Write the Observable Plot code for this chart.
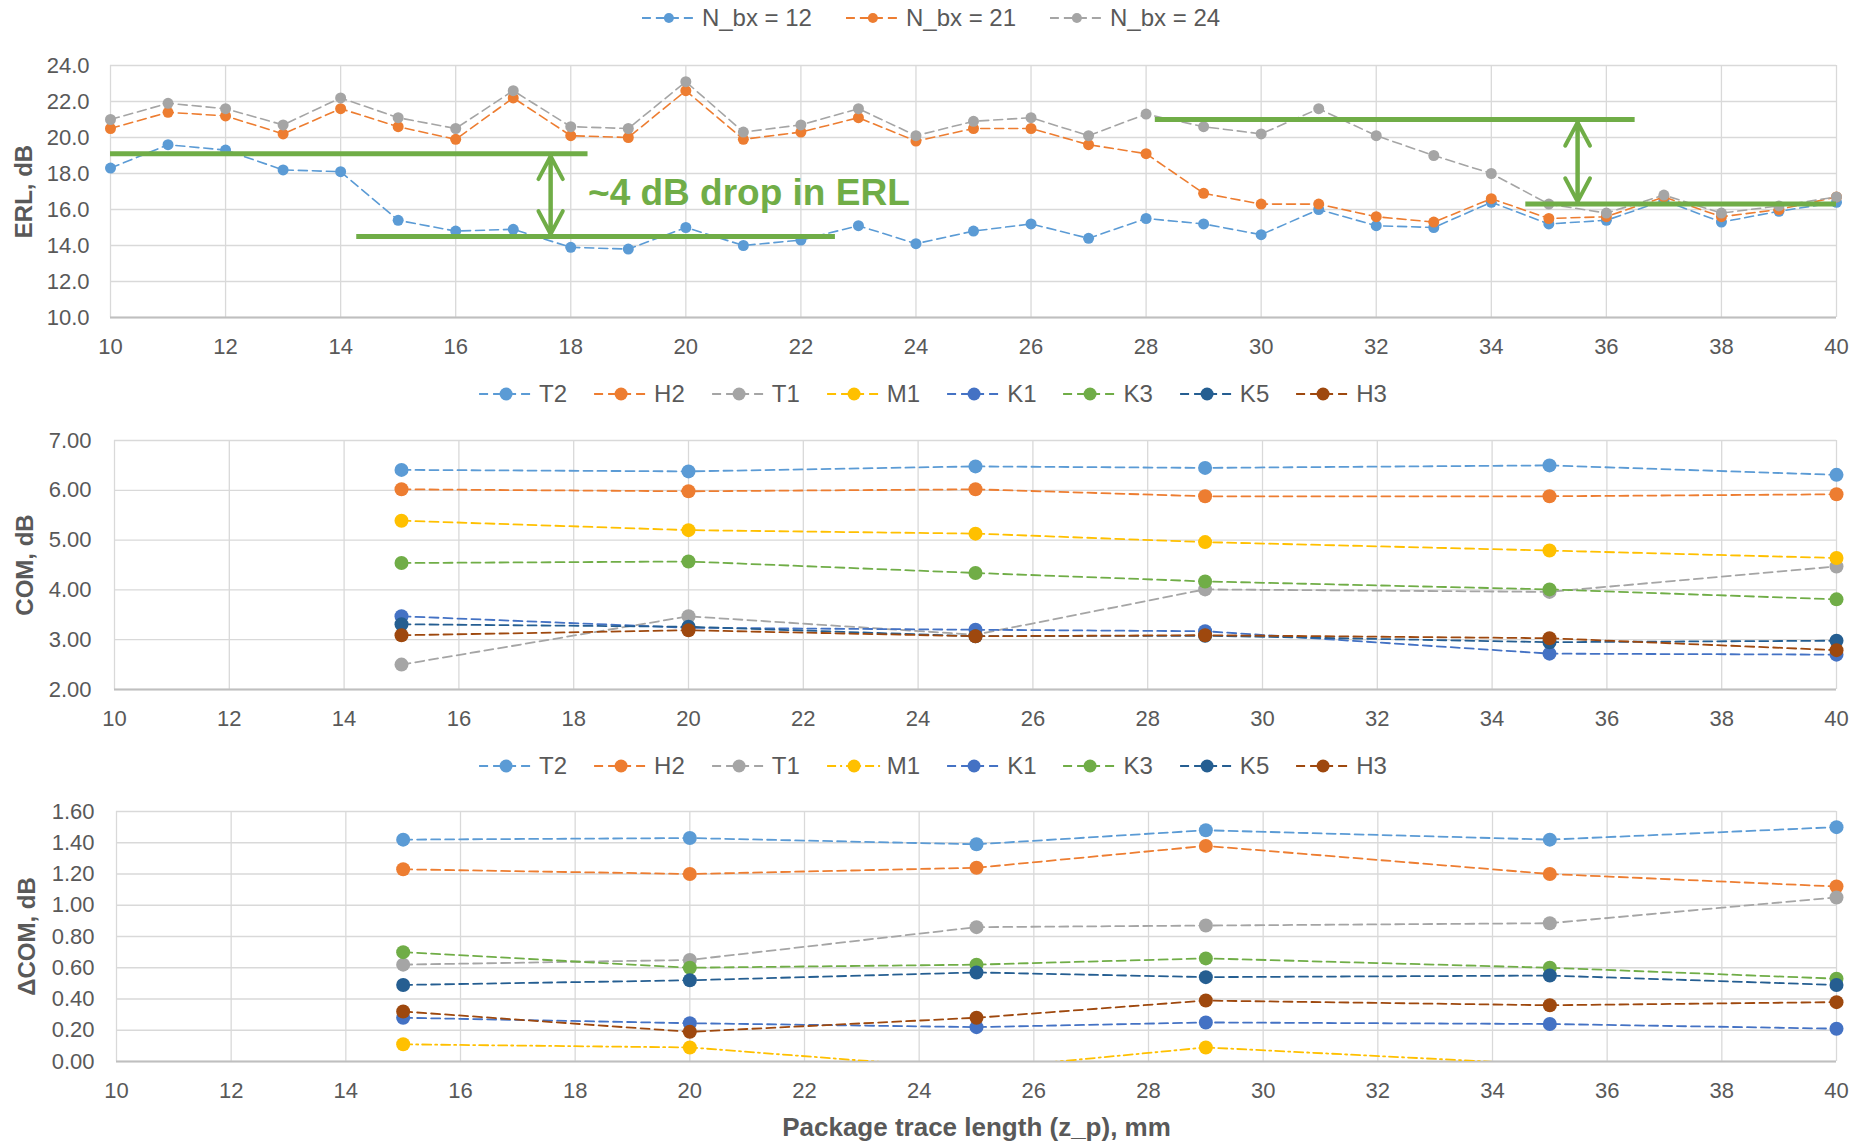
<!DOCTYPE html>
<html><head><meta charset="utf-8">
<script src="https://cdn.jsdelivr.net/npm/d3@7"></script>
<script src="https://cdn.jsdelivr.net/npm/@observablehq/plot@0.6"></script>
<style>
body{margin:0;background:#fff;font-family:"Liberation Sans",Arial,sans-serif;}
#wrap{position:relative;width:1854px;height:1142px;overflow:hidden;background:#fff;}
.chart{position:absolute;left:0;}
.legend{position:absolute;height:28px;transform:translateX(-50%);display:flex;align-items:center;white-space:nowrap;color:#595959;font-size:24px;}
.item{display:flex;align-items:center;}
.item svg{display:block;margin-right:6px;}
</style></head><body><div id="wrap"></div>
<script>
// ---------- data ----------
const lengthsERL = [10,11,12,13,14,15,16,17,18,19,20,21,22,23,24,25,26,27,28,29,30,31,32,33,34,35,36,37,38,39,40];
const erlNbx12 = [18.3,19.6,19.3,18.2,18.1,15.4,14.8,14.9,13.9,13.8,15.0,14.0,14.3,15.1,14.1,14.8,15.2,14.4,15.5,15.2,14.6,16.0,15.1,15.0,16.4,15.2,15.4,16.5,15.3,15.9,16.4];
const erlNbx21 = [20.5,21.4,21.2,20.2,21.6,20.6,19.9,22.2,20.1,20.0,22.6,19.9,20.3,21.1,19.8,20.5,20.5,19.6,19.1,16.9,16.3,16.3,15.6,15.3,16.6,15.5,15.6,16.7,15.6,16.0,16.7];
const erlNbx24 = [21.0,21.9,21.6,20.7,22.2,21.1,20.5,22.6,20.6,20.5,23.1,20.3,20.7,21.6,20.1,20.9,21.1,20.1,21.3,20.6,20.2,21.6,20.1,19.0,18.0,16.3,15.8,16.8,15.8,16.2,16.7];

const lengthsCOM = [15,20,25,29,35,40];
const comT2 = [6.41,6.38,6.48,6.45,6.50,6.31];
const comH2 = [6.02,5.98,6.02,5.88,5.88,5.92];
const comT1 = [2.50,3.47,3.10,4.01,3.96,4.47];
const comM1 = [5.39,5.20,5.13,4.96,4.79,4.64];
const comK1 = [3.47,3.24,3.20,3.17,2.72,2.70];
const comK3 = [4.54,4.57,4.34,4.17,4.01,3.81];
const comK5 = [3.31,3.26,3.07,3.08,2.95,2.98];
const comH3 = [3.09,3.19,3.07,3.09,3.03,2.79];

const dcomT2 = [1.42,1.43,1.39,1.48,1.42,1.50];
const dcomH2 = [1.23,1.20,1.24,1.38,1.20,1.12];
const dcomT1 = [0.62,0.65,0.86,0.87,0.885,1.05];
const dcomM1 = [0.11,0.09,-0.05,0.09,-0.02,-0.06];
const dcomK1 = [0.28,0.245,0.22,0.25,0.24,0.21];
const dcomK3 = [0.70,0.60,0.62,0.66,0.60,0.53];
const dcomK5 = [0.49,0.52,0.57,0.54,0.55,0.49];
const dcomH3 = [0.32,0.19,0.28,0.39,0.36,0.38];

const xTicks = [10,12,14,16,18,20,22,24,26,28,30,32,34,36,38,40];
const erlTicks = [10,12,14,16,18,20,22,24];
const comTicks = [2,3,4,5,6,7];
const dcomTicks = [0,0.2,0.4,0.6,0.8,1.0,1.2,1.4,1.6];

// annotation (top chart)
const annotLines = [
  {y:19.1, x1:10, x2:18.3},
  {y:14.5, x1:14.28, x2:22.6},
  {y:21.0, x1:28.16, x2:36.5},
  {y:16.3, x1:34.6, x2:40}
];
const annotArrows = [
  {x:17.65, top:18.96, bottom:14.64},
  {x:35.5, top:20.84, bottom:16.44}
];
const annotText = "~4 dB drop in ERL";

// ---------- styles ----------
const C = {T2:"#5B9BD5", H2:"#ED7D31", T1:"#A5A5A5", M1:"#FFC000", K1:"#4472C4", K3:"#70AD47", K5:"#255E91", H3:"#9E480E"};
const DASH = "9,5";
const DASHDOT = "9,4,2,4";
const GREEN = "#70AD47";
const TXT = "#595959";
const FONT = '"Liberation Sans", Arial, sans-serif';

const erlSeries = [
  {name:"N_bx = 12", color:C.T2, values:erlNbx12, dash:DASH},
  {name:"N_bx = 21", color:C.H2, values:erlNbx21, dash:DASH},
  {name:"N_bx = 24", color:C.T1, values:erlNbx24, dash:DASH}
];
const comSeries = [
  {name:"T2", color:C.T2, values:comT2, dash:DASH},
  {name:"H2", color:C.H2, values:comH2, dash:DASH},
  {name:"T1", color:C.T1, values:comT1, dash:DASH},
  {name:"M1", color:C.M1, values:comM1, dash:DASH},
  {name:"K1", color:C.K1, values:comK1, dash:DASH},
  {name:"K3", color:C.K3, values:comK3, dash:DASH},
  {name:"K5", color:C.K5, values:comK5, dash:DASH},
  {name:"H3", color:C.H3, values:comH3, dash:DASH}
];
const dcomSeries = [
  {name:"T2", color:C.T2, values:dcomT2, dash:DASH},
  {name:"H2", color:C.H2, values:dcomH2, dash:DASH},
  {name:"T1", color:C.T1, values:dcomT1, dash:DASH},
  {name:"M1", color:C.M1, values:dcomM1, dash:DASHDOT},
  {name:"K1", color:C.K1, values:dcomK1, dash:DASH},
  {name:"K3", color:C.K3, values:dcomK3, dash:DASH},
  {name:"K5", color:C.K5, values:dcomK5, dash:DASH},
  {name:"H3", color:C.H3, values:dcomH3, dash:DASH}
];

const wrap = document.getElementById("wrap");

function legend(series, cy, r, gap, cx) {
  const div = document.createElement("div");
  div.className = "legend";
  div.style.top = (cy - 14) + "px";
  div.style.left = cx + "px";
  series.forEach((s, i) => {
    const it = document.createElement("div");
    it.className = "item";
    if (i > 0) it.style.marginLeft = gap + "px";
    it.innerHTML = `<svg width="54" height="20"><line x1="0" x2="54" y1="10" y2="10" stroke="${s.color}" stroke-width="1.8" stroke-dasharray="${s.dash}"/><circle cx="27" cy="10" r="${r}" fill="${s.color}"/></svg><span>${s.name}</span>`;
    div.appendChild(it);
  });
  wrap.appendChild(div);
}

function chart(cfg) {
  const marks = [
    Plot.gridX(xTicks, {stroke:"#D9D9D9", strokeOpacity:1, strokeWidth:1.3}),
    Plot.gridY(cfg.yTicks, {stroke:"#D9D9D9", strokeOpacity:1, strokeWidth:1.3}),
    Plot.ruleY([cfg.yDomain[0]], {stroke:"#BFBFBF", strokeWidth:2}),
    Plot.axisX(xTicks, {tickSize:0, tickPadding:21, fontSize:22, fill:TXT, label:null}),
    Plot.axisY(cfg.yTicks, {tickSize:0, tickPadding:cfg.yPad, tickFormat:d3.format(cfg.fmt), fontSize:22, fill:TXT, label:null}),
    Plot.text([cfg.yTitle], {text:d=>d, frameAnchor:"left", dx:cfg.titleX - cfg.marginLeft, rotate:-90, textAnchor:"middle", fontSize:24, fontWeight:"bold", fill:TXT})
  ];
  for (const s of cfg.series) {
    const data = cfg.xs.map((x, i) => ({x, y:s.values[i]}));
    marks.push(Plot.line(data, {x:"x", y:"y", stroke:s.color, strokeWidth:cfg.lw, strokeDasharray:s.dash, clip:true}));
    marks.push(Plot.dot(data.filter(d => d.y >= cfg.yDomain[0]), {x:"x", y:"y", r:cfg.r, fill:s.color}));
  }
  if (cfg.extra) marks.push(...cfg.extra);
  const svg = Plot.plot({
    width:1854, height:cfg.height,
    marginTop:cfg.marginTop, marginBottom:cfg.marginBottom, marginLeft:cfg.marginLeft, marginRight:18,
    x:{domain:[10,40], label:null},
    y:{domain:cfg.yDomain, label:null},
    style:{fontFamily:FONT, fontSize:"22px", color:TXT, background:"transparent", overflow:"visible"},
    marks
  });
  svg.classList.add("chart");
  svg.style.top = cfg.top + "px";
  wrap.appendChild(svg);
}

// top chart
legend(erlSeries, 18, 5, 34, 931);
chart({
  top:40, height:330, marginTop:25, marginBottom:53, marginLeft:110, yPad:21,
  xs:lengthsERL, series:erlSeries, yDomain:[10,24], yTicks:erlTicks, fmt:".1f",
  yTitle:"ERL, dB", titleX:24, r:5.5, lw:1.6,
  extra:[
    Plot.ruleY(annotLines, {y:"y", x1:"x1", x2:"x2", stroke:GREEN, strokeWidth:5}),
    Plot.arrow(annotArrows, {x1:"x", x2:"x", y1:"bottom", y2:"top", stroke:GREEN, strokeWidth:4, headLength:10, headAngle:56}),
    Plot.arrow(annotArrows, {x1:"x", x2:"x", y1:"top", y2:"bottom", stroke:GREEN, strokeWidth:4, headLength:10, headAngle:56}),
    Plot.text([annotText], {text:d=>d, x:18.3, y:16.9, textAnchor:"start", fontSize:37, fontWeight:"bold", fill:GREEN})
  ]
});

// middle chart
legend(comSeries, 394, 6.5, 27, 933);
chart({
  top:415, height:330, marginTop:25, marginBottom:56, marginLeft:114, yPad:23,
  xs:lengthsCOM, series:comSeries, yDomain:[2,7], yTicks:comTicks, fmt:".2f",
  yTitle:"COM, dB", titleX:25, r:7, lw:1.8
});

// bottom chart
legend(dcomSeries, 766, 6.5, 27, 933);
chart({
  top:786, height:356, marginTop:25, marginBottom:81, marginLeft:116, yPad:22,
  xs:lengthsCOM, series:dcomSeries, yDomain:[0,1.6], yTicks:dcomTicks, fmt:".2f",
  yTitle:"\u0394COM, dB", titleX:27, r:7, lw:1.8,
  extra:[
    Plot.text(["Package trace length (z_p), mm"], {text:d=>d, frameAnchor:"bottom", dy:74, textAnchor:"middle", fontSize:26, fontWeight:"bold", fill:TXT})
  ]
});
</script></body></html>
